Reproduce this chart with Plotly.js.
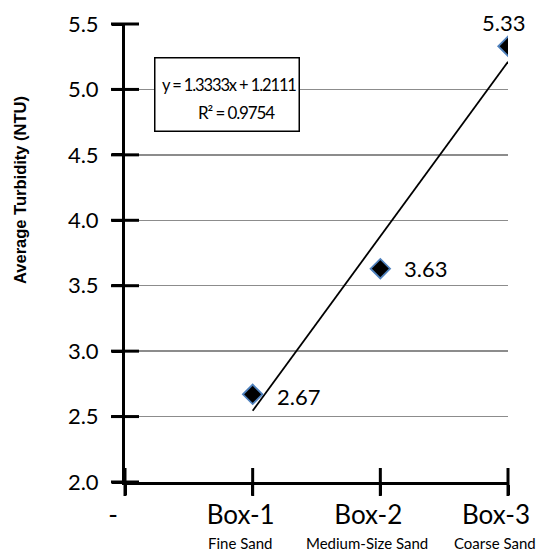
<!DOCTYPE html>
<html><head><meta charset="utf-8">
<script src="https://cdn.plot.ly/plotly-3.0.1.min.js"></script>
<style>html,body{margin:0;padding:0;background:#fff}</style>
</head><body>
<div id="chart" style="width:547px;height:553px"></div>
<script>
var categories = ["-", "Box-1", "Box-2", "Box-3"];
var subLabels = ["", "Fine Sand", "Medium-Size Sand", "Coarse Sand"];
var turbidity = [2.67, 3.63, 5.33];
var pointX = [1, 2, 3];
var labels = ["2.67", "3.63", "5.33"];
var slope = 1.3333, intercept = 1.2111, r2 = 0.9754;
var yTicks = [2.0, 2.5, 3.0, 3.5, 4.0, 4.5, 5.0, 5.5];
var catPos = [0, 1, 2, 3];
var eqLines = ["y = 1.3333x + 1.2111", "R² = 0.9754"];

var FONT = "Lato, 'Open Sans', sans-serif";

var trendX = [pointX[0], pointX[pointX.length-1]];
var trendY = trendX.map(function(x){ return slope*x + intercept; });

var traces = [
  {x: trendX, y: trendY, mode: "lines", line: {color: "#000", width: 1.8}, hoverinfo: "skip"},
  {x: pointX, y: turbidity, mode: "markers", marker: {symbol: "diamond", size: 15, color: "#000", line: {color: "#4f81bd", width: 1.8}}},
  // inner half of the crossing tick marks
  {x: yTicks.map(function(){return 0;}), y: yTicks, mode: "markers", hoverinfo: "skip",
   marker: {symbol: "line-ew", size: 20, line: {color: "#000", width: 3}}, cliponaxis: false},
  {x: catPos, y: catPos.map(function(){return 2;}), mode: "markers", hoverinfo: "skip",
   marker: {symbol: "line-ns", size: 20, line: {color: "#000", width: 3}}, cliponaxis: false}
];

var LS = "<span style='letter-spacing:-1.1px'>";
var annotations = [
  {x: 1, y: turbidity[0], text: labels[0], showarrow: false, xanchor: "left", xshift: 22, yshift: -2, font: {size: 22, family: FONT, color: "#000"}},
  {x: 2, y: turbidity[1], text: labels[1], showarrow: false, xanchor: "left", xshift: 22, font: {size: 22, family: FONT, color: "#000"}},
  {x: 3, y: turbidity[2], text: labels[2], showarrow: false, yanchor: "bottom", yshift: 8, xshift: -5, font: {size: 22, family: FONT, color: "#000"}},
  // equation box frame
  {xref: "paper", yref: "paper", x: 0.2676, y: 0.845, xanchor: "center", yanchor: "middle",
   text: " ", showarrow: false, width: 143, height: 72,
   bordercolor: "#000", borderwidth: 1.5, borderpad: 0, bgcolor: "#fff", font: {size: 10}},
  {xref: "paper", yref: "paper", x: 0.2715, y: 0.8668, xanchor: "center", yanchor: "middle",
   text: LS + eqLines[0] + "</span>", showarrow: false, font: {size: 16.5, family: FONT, color: "#000"}},
  {xref: "paper", yref: "paper", x: 0.2915, y: 0.8057, xanchor: "center", yanchor: "middle",
   text: LS + eqLines[1] + "</span>", showarrow: false, font: {size: 17, family: FONT, color: "#000"}},
  {xref: "paper", yref: "paper", x: 0, y: 0.6376, xshift: -105, xanchor: "center", yanchor: "middle", textangle: -90, showarrow: false,
   text: "<b>Average Turbidity (NTU)</b>", font: {size: 16.5, family: "'Liberation Sans', Arial, sans-serif", color: "#000"}}
];
catPos.forEach(function(p, i){
  if (subLabels[i]) {
    annotations.push({x: p, xref: "x", yref: "paper", y: 0, yshift: -61, xshift: -13, yanchor: "middle", xanchor: "center", showarrow: false,
      text: subLabels[i], font: {size: 15, family: FONT, color: "#000"}});
  }
});

var layout = {
  width: 547, height: 553,
  margin: {l: 125, r: 39, t: 24, b: 71},
  paper_bgcolor: "#fff", plot_bgcolor: "#fff",
  showlegend: false,
  font: {family: FONT, color: "#000"},
  xaxis: {range: [0, 3], tickvals: catPos, ticktext: categories, showgrid: false, zeroline: false,
          showline: true, linecolor: "#000", linewidth: 3, ticks: "outside", ticklen: 10, tickwidth: 3, tickcolor: "#000",
          ticklabelshift: -12, ticklabelstandoff: -2,
          tickfont: {size: 26, family: FONT}},
  yaxis: {range: [2.0, 5.5], tickvals: yTicks, ticktext: yTicks.map(function(v){return v.toFixed(1);}),
          showgrid: true, gridcolor: "#8c8c8c", gridwidth: 1.5, zeroline: false,
          showline: true, linecolor: "#000", linewidth: 3, ticks: "outside", ticklen: 10, tickwidth: 3, tickcolor: "#000",
          ticklabelstandoff: 9,
          tickfont: {size: 22, family: FONT}},
  annotations: annotations
};
Plotly.newPlot("chart", traces, layout, {displayModeBar: false, staticPlot: true});
</script>
</body></html>
